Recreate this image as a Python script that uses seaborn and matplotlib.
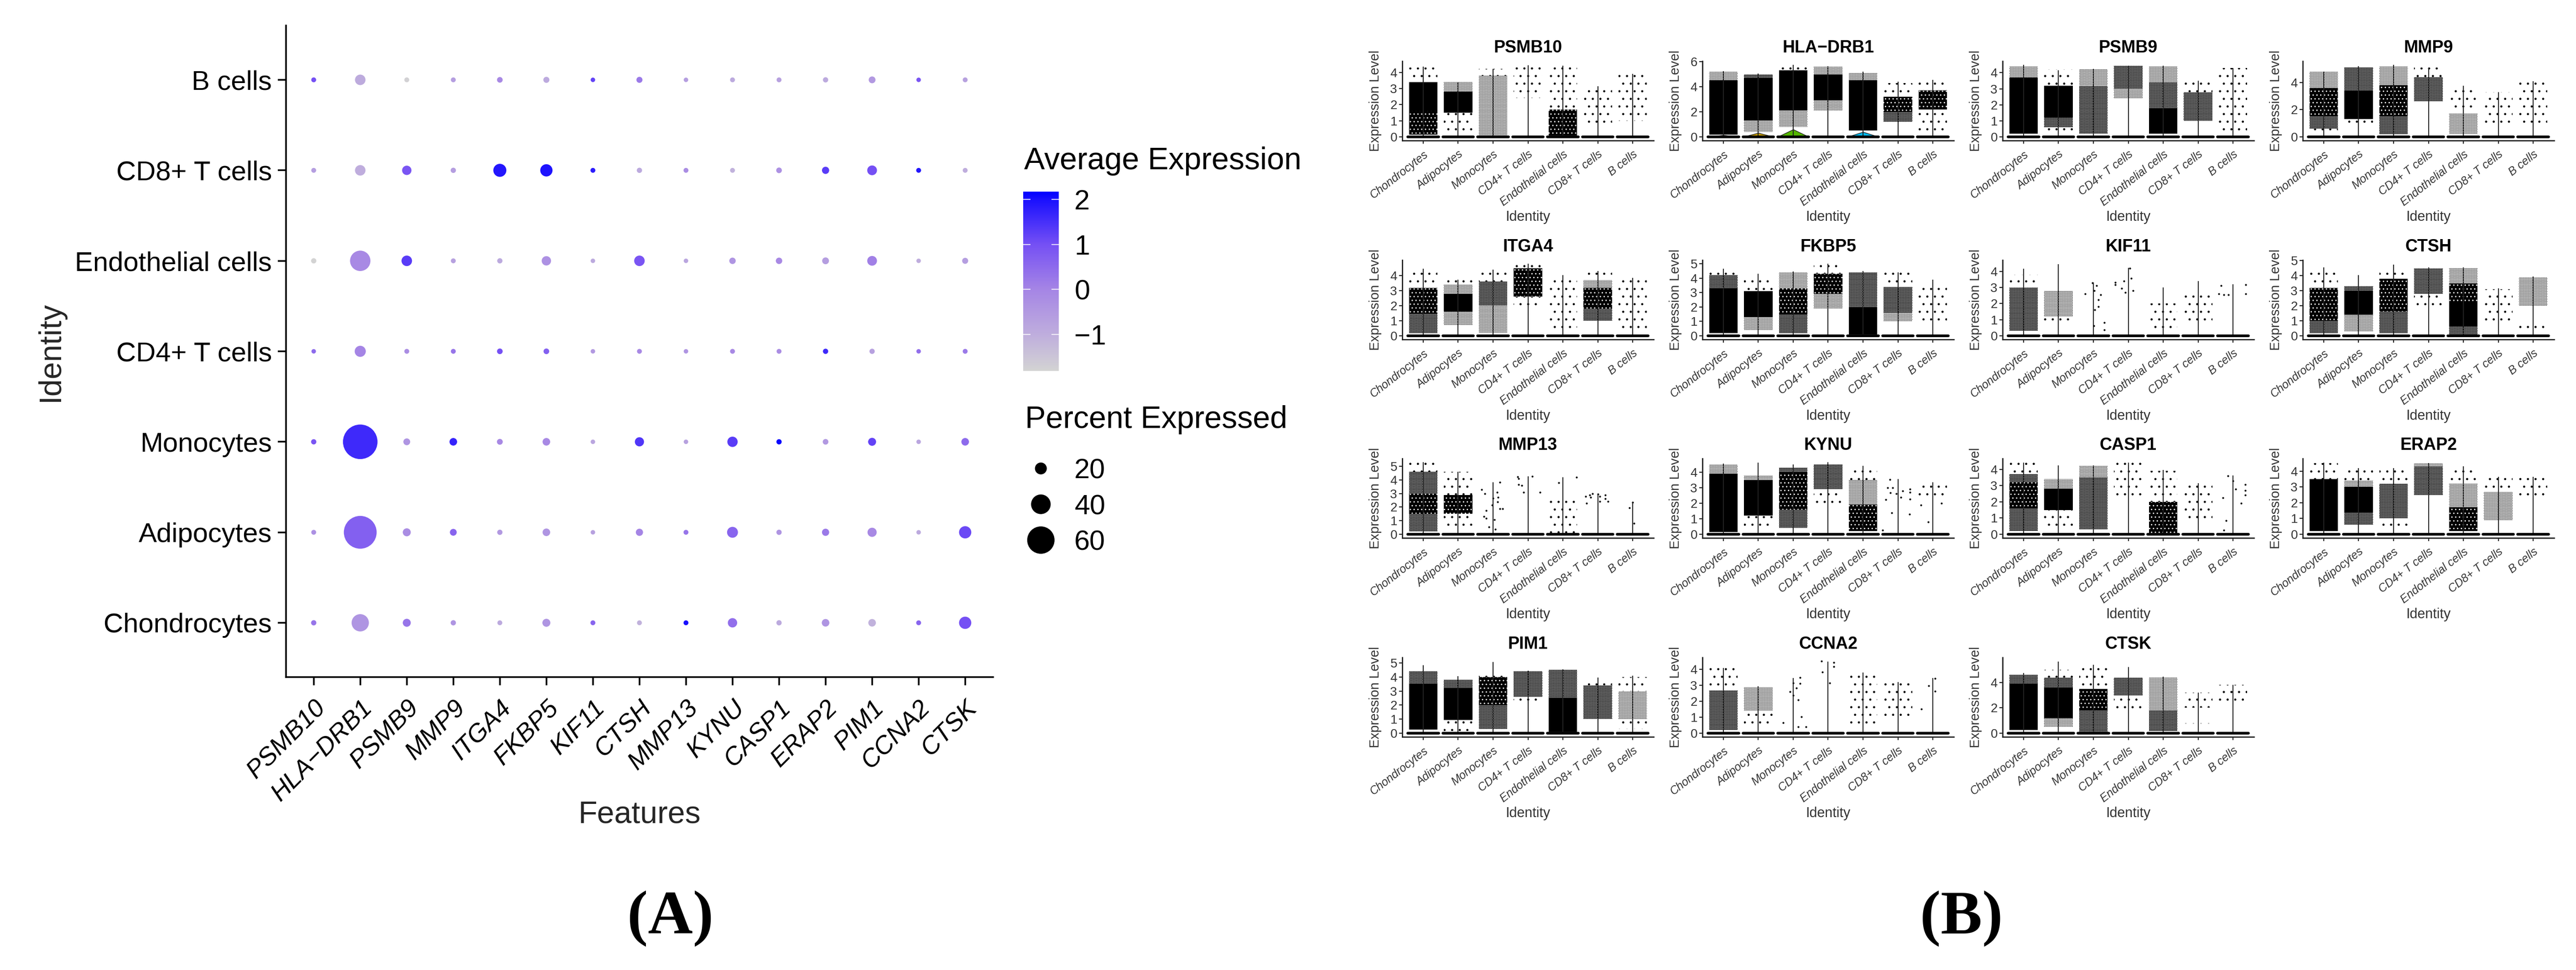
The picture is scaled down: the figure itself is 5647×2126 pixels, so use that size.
import numpy as np
import pandas as pd
import matplotlib
matplotlib.use("Agg")
import matplotlib.pyplot as plt
from matplotlib.colors import LinearSegmentedColormap, Normalize
from matplotlib.cm import ScalarMappable
import seaborn as sns

# ---------------- panel A data ----------------
FEATURES = ["PSMB10", "HLA\u2212DRB1", "PSMB9", "MMP9", "ITGA4", "FKBP5", "KIF11", "CTSH",
            "MMP13", "KYNU", "CASP1", "ERAP2", "PIM1", "CCNA2", "CTSK"]
IDENTITIES = ["Chondrocytes", "Adipocytes", "Monocytes", "CD4+ T cells",
              "Endothelial cells", "CD8+ T cells", "B cells"]

PCT_CHONDRO = [3, 34, 10, 3, 2, 10, 2, 2, 2, 13.5, 3, 9, 9, 2, 21]
PCT_ADIPO = [2, 74, 10, 7, 3, 9, 1, 8, 2, 17.5, 3, 8, 13, 1, 21]
PCT_MONO = [3, 78.5, 7, 9, 4.5, 9, 1, 13, 1, 16, 3, 4, 10, 1, 9]
PCT_CD4 = [1, 18, 2, 2, 4, 4, 1, 2, 1, 2, 2, 3, 3, 1, 2]
PCT_ENDO = [3, 42, 16.5, 2, 3, 13.5, 1, 16.5, 1, 6, 6, 7, 14.5, 1, 5]
PCT_CD8 = [2, 16.5, 13.5, 3, 23, 21, 2, 3, 2, 2, 4, 8, 14.5, 2, 2]
PCT_B = [2, 16.5, 2, 2, 4, 5, 1, 5, 1, 2, 2, 3, 7, 1, 2]

AVG_CHONDRO = [0.3, -0.4, 0.3, -0.4, -0.9, -0.4, 0.6, -1.1, 2.0, 0.4, -0.9, -0.4, -1.1, 0.6, 1.0]
AVG_ADIPO = [-0.3, 0.7, -0.2, 0.6, -0.5, -0.4, -0.7, 0.0, 0.3, 0.6, -0.4, 0.2, -0.1, -0.9, 1.1]
AVG_MONO = [0.9, 1.6, -0.4, 1.7, -0.1, -0.1, -0.8, 1.4, -0.7, 1.3, 2.1, -0.5, 1.2, -0.8, 0.5]
AVG_CD4 = [0.5, 0.0, -0.2, 0.3, 1.0, 0.7, -0.5, -0.1, -0.4, -0.1, -0.2, 1.6, -0.7, 0.4, 0.2]
AVG_ENDO = [-1.8, -0.1, 1.3, -0.7, -0.9, -0.3, -0.9, 0.9, -0.8, -0.4, -0.1, -0.6, 0.1, -1.0, -0.6]
AVG_CD8 = [-0.6, -1.0, 0.9, -0.6, 1.9, 1.95, 1.8, -0.9, -0.2, -1.1, -0.3, 1.3, 1.0, 1.9, -1.0]
AVG_B = [1.0, -0.95, -1.75, -0.6, -0.1, -0.9, 1.2, 0.2, -0.6, -0.9, -0.7, -0.9, -0.5, 0.9, -0.7]

LEGEND_PCTS = [20, 40, 60]
CBAR_TICKS = [-1, 0, 1, 2]
CBAR_RANGE = (-1.81, 2.17)

# ---------------- panel B data ----------------
# each group: list of (low, high, density level of jittered cells 0-4)
GENE_GROUPS = ["Chondrocytes", "Adipocytes", "Monocytes", "CD4+ T cells",
               "Endothelial cells", "CD8+ T cells", "B cells"]
CLOUDS = {
 "PSMB10": [[(.15,1.6,3),(1.6,3.4,4),(3.4,4.3,0)], [(1.5,2.8,4),(2.8,3.4,1),(.2,1.5,0)], [(.1,3.8,1),(3.8,4.2,0)],
            [(2.4,4.45,0)], [(.1,1.7,3),(1.7,4.4,0)], [(.6,3.1,0)], [(1,3.9,0)]],
 "HLA\u2212DRB1": [[(.2,4.5,4),(4.5,5.2,1)], [(1.3,4.7,4),(.4,1.3,1),(4.7,5.0,2)], [(2.1,5.3,4),(.8,2.1,1),(5.3,5.7,0)],
            [(2.9,5.0,4),(2.1,2.9,1),(5.0,5.6,1)], [(.5,4.5,4),(4.5,5.1,1)], [(2,3.2,3),(1.2,2,2),(3.2,4.3,0)],
            [(2.2,3.7,3),(.5,2.2,0),(3.7,4.5,0)]],
 "PSMB9": [[(.2,3.7,4),(3.7,4.4,1)], [(1.2,3.2,4),(.6,1.2,2),(.1,.6,0),(3.2,4.2,0)], [(.2,3.2,2),(3.2,4.2,1)],
           [(2.4,3.0,1),(3.0,4.45,2)], [(.2,1.8,4),(1.8,3.4,2),(3.4,4.4,1)], [(1,2.8,2),(2.8,3.5,0)], [(.3,4.3,0)]],
 "MMP9": [[(.6,1.5,2),(1.5,3.6,3),(3.6,4.8,1),(.1,.6,0)], [(1.3,3.4,4),(3.4,5.1,2),(.8,1.3,0)], [(.2,1.5,2),(1.5,3.8,3),(3.8,5.2,1)],
          [(2.6,4.4,2),(4.4,5.1,0)], [(.2,1.7,1),(2,3.7,0)], [(.9,3.3,0)], [(1,4.1,0)]],
 "ITGA4": [[(.2,1.5,2),(1.5,3.2,3),(3.2,4.4,0)], [(1.6,2.8,4),(.7,1.6,1),(2.8,3.4,1),(3.4,3.75,0)], [(.2,2,1),(2,3.6,2),(3.6,4.4,0)],
           [(2.6,4.5,3),(1.8,2.6,0),(4.5,4.8,0)], [(.2,4.0,0)], [(1.0,1.8,2),(1.8,3.2,3),(3.2,3.7,1),(3.7,4.3,0)], [(.3,3.8,0)]],
 "FKBP5": [[(.2,3.3,4),(3.3,4.2,2),(4.2,4.6,0)], [(1.3,3.1,4),(.4,1.3,1),(3.1,4.2,0)], [(.2,1.5,2),(1.5,3.3,3),(3.3,4.4,1)],
           [(2.9,4.3,3),(1.9,2.9,1),(4.3,5.0,0)], [(.1,2.0,4),(2,4.4,2)], [(1.6,3.4,2),(1,1.6,1),(3.4,4.4,0)], [(.8,3.7,0)]],
 "KIF11": [[(.3,3.0,2),(3.0,3.8,0)], [(1.2,2.8,1),(.9,1.2,0)], [], [], [(.2,2,0)], [(.9,2.7,0)], []],
 "CTSH": [[(.2,1.0,2),(1,3.2,3),(3.2,4.4,0)], [(1.4,3.0,4),(3.0,3.3,2),(.3,1.4,1)], [(.2,1.6,2),(1.6,3.8,3),(3.8,4.5,0)],
          [(2.8,4.5,2),(1.8,2.8,0)], [(.1,.6,2),(.6,2.3,4),(2.3,3.5,3),(3.5,4.5,1)], [(.8,3.1,0)], [(2,3.9,1),(.2,1,0)]],
 "MMP13": [[(.2,1.5,2),(1.5,3.0,3),(3,4.6,2),(4.6,5.3,0)], [(1.5,2.9,3),(2.9,4.6,0),(.5,1.5,0)], [], [], [(.1,2.8,0)], [], []],
 "KYNU": [[(.15,3.9,4),(3.9,4.5,1)], [(1.2,3.5,4),(3.5,3.8,1),(.4,1.2,0)], [(.4,1.6,2),(1.6,4.0,3),(4,4.3,2)],
          [(2.9,4.5,2),(2,2.9,0)], [(.2,1.9,3),(1.9,3.5,1),(3.5,4.4,0)], [], [(2.5,3.3,0)]],
 "CASP1": [[(.2,1.6,2),(1.6,3.2,3),(3.2,3.7,2),(3.7,4.4,0)], [(1.5,2.8,4),(2.8,3.4,1),(.3,1.5,0)], [(.3,1.8,2),(1.8,3.5,2),(3.5,4.2,1)],
           [(2.4,4.4,0)], [(.1,2,3),(2,3.9,0)], [(.8,3.1,0)], []],
 "ERAP2": [[(.2,3.5,4),(3.5,4.5,0)], [(1.4,3.0,4),(3,3.4,1),(.6,1.4,2),(3.4,4.2,0)], [(.2,1.0,0),(1,3.2,2),(3.2,4.2,0)],
           [(2.5,4.3,2),(4.3,4.5,1)], [(.2,1.7,3),(1.7,3.2,1),(3.2,4.3,0)], [(.9,2.7,1),(2.7,3.6,0)], [(2.2,3.6,0),(.7,1,0)]],
 "PIM1": [[(.25,3.5,4),(3.5,4.4,2)], [(.95,3.2,4),(3.2,3.8,2),(.1,.95,0)], [(.3,2,2),(2,4,3),(4,4.4,0)],
          [(2.6,4.4,2),(2.1,2.6,0)], [(.1,2.5,4),(2.5,4.5,2)], [(1,3.4,2),(3.4,3.9,0)], [(1,3.0,1),(3,4,0),(.3,1,0)]],
 "CCNA2": [[(.2,2.7,2),(2.7,4.1,0)], [(1.4,2.9,1),(.4,1.4,0)], [], [], [(.3,3.8,0)], [(.8,3.2,0)], []],
 "CTSK": [[(.25,3.9,4),(3.9,4.6,2)], [(1.2,3.6,4),(3.6,4.4,2),(4.4,5.0,0),(.5,1.2,1)], [(.1,1.8,2),(1.8,3.5,3),(3.5,5.2,0)],
          [(3.0,4.4,2),(1.8,3,0)], [(.2,1.8,2),(1.8,4.4,1)], [(2,3.2,0),(.5,.8,0)], [(2.2,3.8,0)]],
}
# upper end of each violin line
TOPS = {
 "PSMB10": [4.35, 3.4, 4.2, 4.45, 4.42, 3.15, 3.9],
 "HLA\u2212DRB1": [5.25, 5.05, 5.75, 5.65, 5.2, 4.4, 4.55],
 "PSMB9": [4.5, 4.15, 4.25, 4.45, 4.45, 3.5, 4.3],
 "MMP9": [4.8, 5.2, 5.3, 5.05, 3.75, 3.3, 4.1],
 "ITGA4": [4.45, 3.75, 4.4, 4.8, 4.05, 4.3, 3.85],
 "FKBP5": [4.65, 4.3, 4.45, 5.0, 4.5, 4.4, 3.9],
 "KIF11": [4.15, 4.45, 3.3, 4.2, 3.0, 3.4, 3.2],
 "CTSH": [4.55, 4.05, 4.75, 4.55, 4.55, 3.15, 3.95],
 "MMP13": [5.3, 4.6, 3.83, 4.25, 4.2, 2.95, 2.35],
 "KYNU": [4.55, 4.6, 4.5, 4.65, 4.4, 3.55, 3.35],
 "CASP1": [4.4, 4.25, 4.25, 4.42, 3.95, 3.15, 3.62],
 "ERAP2": [4.55, 4.2, 4.2, 4.5, 4.3, 3.65, 3.65],
 "PIM1": [4.85, 4.05, 5.05, 4.45, 4.55, 3.95, 4.1],
 "CCNA2": [4.1, 2.95, 3.45, 4.5, 3.8, 3.2, 3.45],
 "CTSK": [4.75, 5.65, 5.4, 5.2, 4.45, 3.2, 3.8],
}
# y axis upper data limit of each panel (largest value)
GENE_MAX = {"PSMB10": 4.47, "HLA\u2212DRB1": 5.75, "PSMB9": 4.5, "MMP9": 5.3, "ITGA4": 4.8, "FKBP5": 5.0, "KIF11": 4.47,
            "CTSH": 4.8, "MMP13": 5.3, "KYNU": 4.64, "CASP1": 4.44, "ERAP2": 4.57, "PIM1": 5.13, "CCNA2": 4.52, "CTSK": 5.68}
GENE_TICKS = {"PSMB10": [0,1,2,3,4], "HLA\u2212DRB1": [0,2,4,6], "PSMB9": [0,1,2,3,4], "MMP9": [0,2,4], "ITGA4": [0,1,2,3,4],
              "FKBP5": [0,1,2,3,4,5], "KIF11": [0,1,2,3,4], "CTSH": [0,1,2,3,4,5], "MMP13": [0,1,2,3,4,5], "KYNU": [0,1,2,3,4],
              "CASP1": [0,1,2,3,4], "ERAP2": [0,1,2,3,4], "PIM1": [0,1,2,3,4,5], "CCNA2": [0,1,2,3,4], "CTSK": [0,2,4]}
# individually readable cells: gene -> group index -> (jitter offset, expression)
CELLS = {
 "KIF11": {2: [(-.23,2.6),(-.02,3.28),(.09,3.12),(.02,2.8),(.21,2.55),(.14,2.24),(.15,1.82),(.04,1.6),(.32,.82),(.01,.63),(.32,.37)],
           3: [(-.37,3.3),(-.37,3.17),(-.13,3.4),(-.19,2.93),(-.09,2.68),(.14,2.8),(.09,3.57),(.05,4.19)],
           6: [(-.34,3.12),(-.41,2.6),(-.26,2.55),(-.13,2.55),(.37,3.17),(.37,2.6)]},
 "CCNA2": {2: [(-.29,.65),(-.09,2.6),(0,3.15),(.2,3.48),(.2,3.12),(.09,2.83),(0,2.37),(.14,2.09),(.23,1.03),(.14,.4),(.37,.4)],
           3: [(-.19,4.52),(-.16,3.82),(.05,3.15),(.16,4.42),(.16,4.18)],
           6: [(-.33,1.53),(-.12,2.97),(.06,2.63),(.06,3.43)]},
 "MMP13": {2: [(-.32,3.27),(-.23,2.99),(-.2,1.76),(-.26,1.32),(-.2,1.18),(-.12,.54),(.04,1.09),(.07,.37),(.19,3.83),(.12,3.1),(.15,2.71),(0,2.66),(.13,2.38),(-.02,2.15),(.19,1.87),(.27,1.87)],
           3: [(-.3,4.22),(-.27,4.08),(.12,4.25),(-.27,3.66),(-.18,3.58),(-.12,3.07),(.35,3.1)],
           4: [(-.12,3.8),(.39,4.19)],
           5: [(-.35,2.79),(-.23,2.88),(-.15,2.97),(-.32,2.27),(-.2,2.71),(.06,2.77),(.06,2.43),(.21,2.88),(.21,2.6),(.29,2.43),(0,2.94)],
           6: [(-.09,1.96),(0,2.34),(.04,.81)]},
 "KYNU": {5: [(-.23,3.53),(-.15,3.0),(-.29,3.0),(-.21,2.66),(-.04,2.6),(.14,2.8),(.08,2.39),(.34,2.92),(.34,2.7),(.35,2.27),(-.35,2.22),(-.18,1.39),(.33,1.29),(-.44,.27)],
          6: [(-.34,1.88),(.25,2.0),(-.13,.8)]},
 "CASP1": {6: [(-.14,3.6),(0,3.3),(.35,3.05),(.08,2.77),(.35,2.7),(.35,2.43),(-.29,2.25),(.23,1.9),(-.2,.84),(-.26,.26)]},
}
# HLA-DRB1 violin bodies: group index -> height
VIOLIN_BODIES = {0: 0.15, 1: 0.32, 2: 0.6, 4: 0.4}
VIOLIN_COLORS = {0: "#F8766D", 1: "#C49A00", 2: "#53B400", 4: "#00B6EB"}

# ---------------- styling ----------------
W, H = 5647, 2126
DPI = 100
sns.set_theme(style="ticks")
plt.rcParams["font.family"] = ["Liberation Sans", "DejaVu Sans"]
plt.rcParams["hatch.linewidth"] = 1.0
plt.rcParams["axes.unicode_minus"] = True

fig = plt.figure(figsize=(W / DPI, H / DPI), dpi=DPI, facecolor="white")


def px_axes(left, top, right, bottom):
    return fig.add_axes([left / W, 1 - bottom / H, (right - left) / W, (bottom - top) / H])


cmap = LinearSegmentedColormap.from_list(
    "grey_blue",
    [(0, "#D3D3D3"), (.2, "#BFAEDD"), (.455, "#A585E5"), (.706, "#7550F4"), (.957, "#1A10FE"), (1, "#0000FF")],
)
norm = Normalize(*CBAR_RANGE)


def diameter_pts(p):
    return (9 + 0.85 * p) * 72 / DPI


# ---------------- panel A ----------------
pct_rows = [PCT_CHONDRO, PCT_ADIPO, PCT_MONO, PCT_CD4, PCT_ENDO, PCT_CD8, PCT_B]
avg_rows = [AVG_CHONDRO, AVG_ADIPO, AVG_MONO, AVG_CD4, AVG_ENDO, AVG_CD8, AVG_B]
df = pd.DataFrame(
    [{"Features": f, "Identity": i, "pct": p, "avg": a}
     for i, ps, avs in zip(IDENTITIES, pct_rows, avg_rows)
     for f, p, a in zip(FEATURES, ps, avs)]
)
ax = px_axes(626.5, 56, 2177, 1484)
sizes = {p: diameter_pts(p) ** 2 for p in df["pct"].unique()}
sns.scatterplot(data=df, x="Features", y="Identity", size="pct", sizes=sizes,
                hue="avg", hue_norm=norm, palette=cmap, linewidth=0, legend=False, ax=ax)
ax.set_xlim(-.6, 14.6)
ax.set_ylim(-.6, 6.6)
sns.despine(ax=ax)
for s in ("left", "bottom"):
    ax.spines[s].set_linewidth(2.6)
    ax.spines[s].set_color("black")
ax.tick_params(axis="both", length=13, width=2.6, color="black", labelcolor="black")
ax.tick_params(axis="y", labelsize=43, pad=9)
ax.tick_params(axis="x", labelsize=40, pad=17)
plt.setp(ax.get_xticklabels(), rotation=45, ha="right", va="top", rotation_mode="anchor", style="italic")
ax.set_xlabel("Features", fontsize=49, va="center")
ax.xaxis.set_label_coords(.5, -(1786 - 1484) / 1428)
ax.set_ylabel("Identity", fontsize=49, va="center")
ax.yaxis.set_label_coords(-(626.5 - 111) / 1550.5, .5)

# colour legend
fig.text(2245 / W, 1 - 353 / H, "Average Expression", fontsize=49, va="center", ha="left", color="black")
cax = px_axes(2243, 420, 2320.5, 813)
cb = fig.colorbar(ScalarMappable(norm=norm, cmap=cmap), cax=cax, ticks=CBAR_TICKS)
cb.outline.set_visible(False)
cax.tick_params(length=0, labelsize=44, pad=25, labelcolor="black")
cax.hlines(CBAR_TICKS, 0, .2, color="white", lw=1.6, alpha=.8)
cax.hlines(CBAR_TICKS, .8, 1, color="white", lw=1.6, alpha=.8)

# size legend
fig.text(2247 / W, 1 - 920 / H, "Percent Expressed", fontsize=49, va="center", ha="left", color="black")
lax = px_axes(2243, 987.5, 2320.5, 1223)
leg_df = pd.DataFrame({"pos": [2, 1, 0], "pct": LEGEND_PCTS, "x": [0, 0, 0]})
sns.scatterplot(data=leg_df, x="x", y="pos", size="pct",
                sizes={p: diameter_pts(p) ** 2 for p in LEGEND_PCTS},
                color="black", linewidth=0, legend=False, ax=lax)
lax.set_xlim(-.5, .5)
lax.set_ylim(-.5, 2.5)
lax.set_xticks([])
lax.set_xlabel("")
lax.set_ylabel("")
lax.yaxis.tick_right()
lax.set_yticks(leg_df["pos"], [str(p) for p in LEGEND_PCTS])
lax.tick_params(axis="y", length=0, labelsize=44, pad=25, labelcolor="black")
sns.despine(ax=lax, left=True, bottom=True)

# ---------------- panel B ----------------
# density level -> look of the cloud: (face, hatch colour, hatch)
CLOUD_LOOK = {
    4: ("black", "black", None),
    3: ("black", "white", ".."),
    2: ("black", "white", "......"),
    1: ("none", "black", "......"),
    0: ("none", "black", "."),
}
COL_LEFT = [3074, 3732, 4390, 5048]
ROW_BOTTOM = [308, 744, 1179, 1615]
PANEL_W, PANEL_H = 551, 174
positions = np.arange(len(GENE_GROUPS))

for k, gene in enumerate(CLOUDS):
    row, col = divmod(k, 4)
    left, bottom = COL_LEFT[col], ROW_BOTTOM[row]
    ax = px_axes(left, bottom - PANEL_H, left + PANEL_W, bottom)
    sns.despine(ax=ax)
    m = GENE_MAX[gene]
    for g, layers in enumerate(CLOUDS[gene]):
        for lo, hi, level in layers:
            face, edge, hatch = CLOUD_LOOK[level]
            ax.bar(g, hi - lo, bottom=lo, width=.82, facecolor=face, edgecolor=edge,
                   hatch=hatch, linewidth=0, zorder=2)
    for g, pts in CELLS.get(gene, {}).items():
        sns.scatterplot(x=[g + d for d, _ in pts], y=[v for _, v in pts], color="black", s=9,
                        linewidth=0, legend=False, ax=ax, zorder=3)
    if gene == "HLA\u2212DRB1":
        for g, h in VIOLIN_BODIES.items():
            ax.fill_between([g - .45, g, g + .45], 0, [0, h, 0], facecolor=VIOLIN_COLORS[g],
                            edgecolor="#222222", linewidth=1, zorder=4)
    ax.vlines(positions, 0, TOPS[gene], color="#222222", lw=1.5, zorder=5)
    ax.hlines(np.zeros(len(positions)), positions - .44, positions + .44, color="black", lw=4.2,
              capstyle="round", zorder=6)
    ax.set_xlim(-.6, 6.6)
    ax.set_ylim(-.05 * m, 1.05 * m)
    ax.set_xticks(positions, GENE_GROUPS)
    ax.set_yticks(GENE_TICKS[gene])
    for s in ("left", "bottom"):
        ax.spines[s].set_linewidth(2)
        ax.spines[s].set_color("#222222")
    ax.tick_params(axis="both", length=5, width=1.6, color="#222222", labelcolor="#333333")
    ax.tick_params(axis="y", labelsize=20, pad=3)
    ax.tick_params(axis="x", labelsize=18, pad=8)
    plt.setp(ax.get_xticklabels(), rotation=38, ha="right", va="top", rotation_mode="anchor", style="italic")
    ax.set_title(gene, fontsize=27, fontweight="bold", pad=14, color="black")
    ax.set_xlabel("Identity", fontsize=22, va="center", color="#333333")
    ax.xaxis.set_label_coords(.5, -168 / PANEL_H)
    ax.set_ylabel("Expression Level", fontsize=21, va="center", color="#333333")
    ax.yaxis.set_label_coords(-59 / PANEL_W, .5)

# ---------------- panel tags ----------------
for tag, xc in (("(A)", 1470), ("(B)", 4300)):
    fig.text(xc / W, 1 - 2013 / H, tag, fontsize=98, fontweight="bold", ha="center", va="center",
             family="Liberation Serif", color="black")

fig.savefig("out.png", dpi=DPI, facecolor="white")
